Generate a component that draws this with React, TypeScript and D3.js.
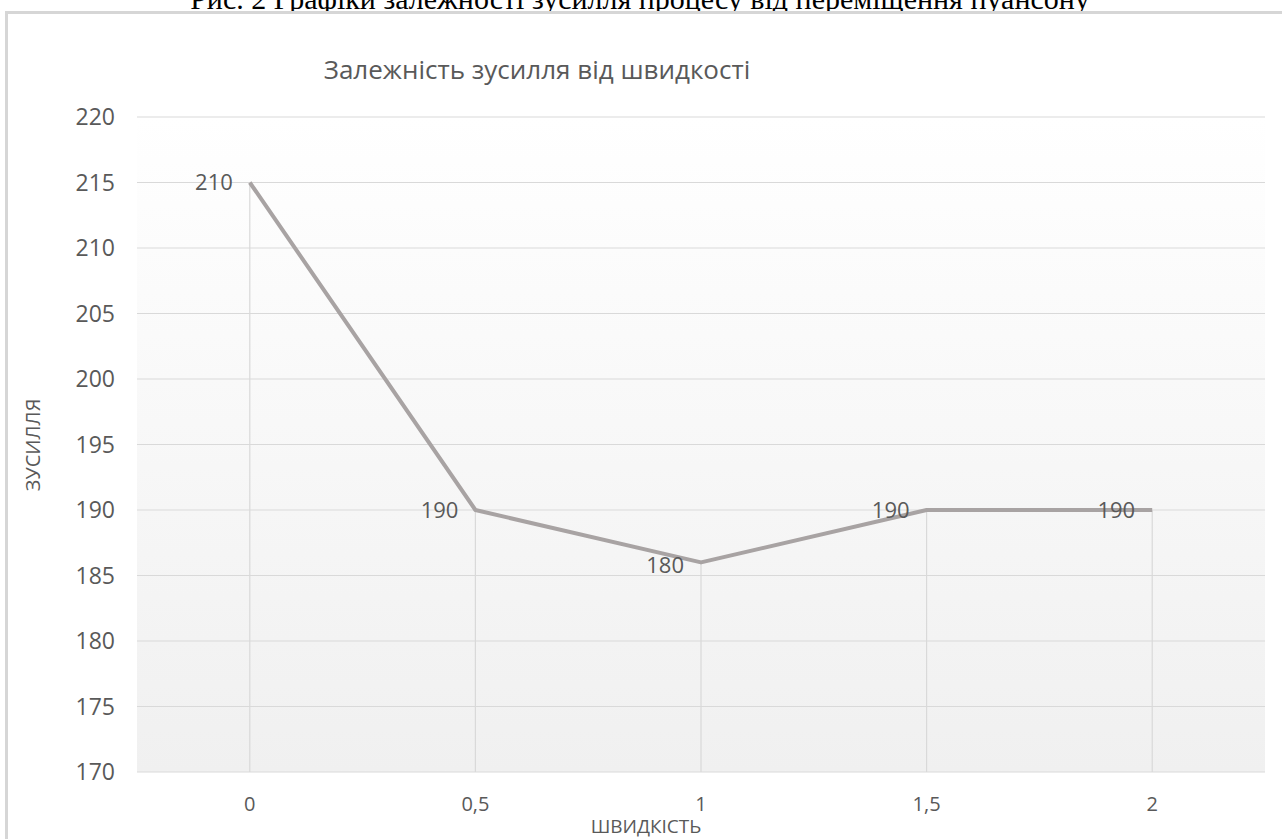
import React from "react";
import * as d3 from "d3";

// data
const categories = ["0", "0,5", "1", "1,5", "2"];
const forceValues = [215, 190, 186, 190, 190];
const pointLabels = ["210", "190", "180", "190", "190"];
const yTicks = [170, 175, 180, 185, 190, 195, 200, 205, 210, 215, 220];

const W = 1282;
const H = 839;
const plot = { left: 137, right: 1265, top: 117, bottom: 772 };
const textColor = "#595959";
const font = "'Open Sans', 'Noto Sans', sans-serif";

export default function App() {
  const x = d3
    .scalePoint<string>()
    .domain(categories)
    .range([plot.left, plot.right])
    .padding(0.5);
  const y = d3.scaleLinear().domain([170, 220]).range([plot.bottom, plot.top]);

  const line = d3
    .line<number>()
    .x((_, i) => x(categories[i]) as number)
    .y((d) => y(d));

  return (
    <svg
      width={W}
      height={H}
      style={{ position: "absolute", left: 0, top: 0, background: "#fff" }}
    >
      <defs>
        <linearGradient id="bg" x1="0" y1="0" x2="0" y2="1">
          <stop offset="0%" stopColor="#ffffff" />
          <stop offset="100%" stopColor="#f0f0f0" />
        </linearGradient>
      </defs>

      {/* caption of the figure, cut by the top edge */}
      <text
        x={640}
        y={9}
        textAnchor="middle"
        fontFamily="'Liberation Serif', 'Times New Roman', serif"
        fontSize={30}
        fill="#000"
      >
        Рис. 2 Графіки залежності зусилля процесу від переміщення пуансону
      </text>

      {/* chart border */}
      <rect
        x={6.5}
        y={12.5}
        width={1320}
        height={900}
        fill="#fff"
        stroke="#d6d6d6"
        strokeWidth={3}
      />

      {/* plot background */}
      <rect
        x={plot.left}
        y={plot.top}
        width={plot.right - plot.left}
        height={plot.bottom - plot.top}
        fill="url(#bg)"
      />

      {/* horizontal grid */}
      {yTicks.map((t) => (
        <line
          key={t}
          x1={plot.left}
          x2={plot.right}
          y1={y(t)}
          y2={y(t)}
          stroke="#d9d9d9"
          strokeWidth={1.2}
        />
      ))}

      {/* drop lines */}
      {forceValues.map((v, i) => (
        <line
          key={i}
          x1={x(categories[i])}
          x2={x(categories[i])}
          y1={y(v)}
          y2={plot.bottom}
          stroke="#d9d9d9"
          strokeWidth={1.2}
        />
      ))}

      {/* series */}
      <path
        d={line(forceValues) || ""}
        fill="none"
        stroke="#a8a3a3"
        strokeWidth={4}
        strokeLinejoin="round"
      />

      {/* data labels */}
      {forceValues.map((v, i) => (
        <text
          key={i}
          x={(x(categories[i]) as number) - 17}
          y={y(v) + (i === 2 ? 3 : 0)}
          dy="0.35em"
          textAnchor="end"
          fontFamily={font}
          fontSize={22}
          fill="#595959"
        >
          {pointLabels[i]}
        </text>
      ))}

      {/* y axis labels */}
      {yTicks.map((t) => (
        <text
          key={t}
          x={115}
          y={y(t)}
          dy="0.36em"
          textAnchor="end"
          fontFamily={font}
          fontSize={23}
          fill={textColor}
        >
          {t}
        </text>
      ))}

      {/* x axis labels */}
      {categories.map((c) => (
        <text
          key={c}
          x={x(c)}
          y={811}
          textAnchor="middle"
          fontFamily={font}
          fontSize={20}
          fill={textColor}
        >
          {c}
        </text>
      ))}

      {/* titles */}
      <text
        x={537}
        y={79}
        textAnchor="middle"
        fontFamily={font}
        fontSize={26}
        fill={textColor}
      >
        Залежність зусилля від швидкості
      </text>
      <text
        x={646}
        y={833}
        textAnchor="middle"
        fontFamily={font}
        fontSize={19}
        fill={textColor}
      >
        ШВИДКІСТЬ
      </text>
      <text
        transform="translate(40,445) rotate(-90)"
        textAnchor="middle"
        fontFamily={font}
        fontSize={20}
        fill={textColor}
      >
        ЗУСИЛЛЯ
      </text>
    </svg>
  );
}
